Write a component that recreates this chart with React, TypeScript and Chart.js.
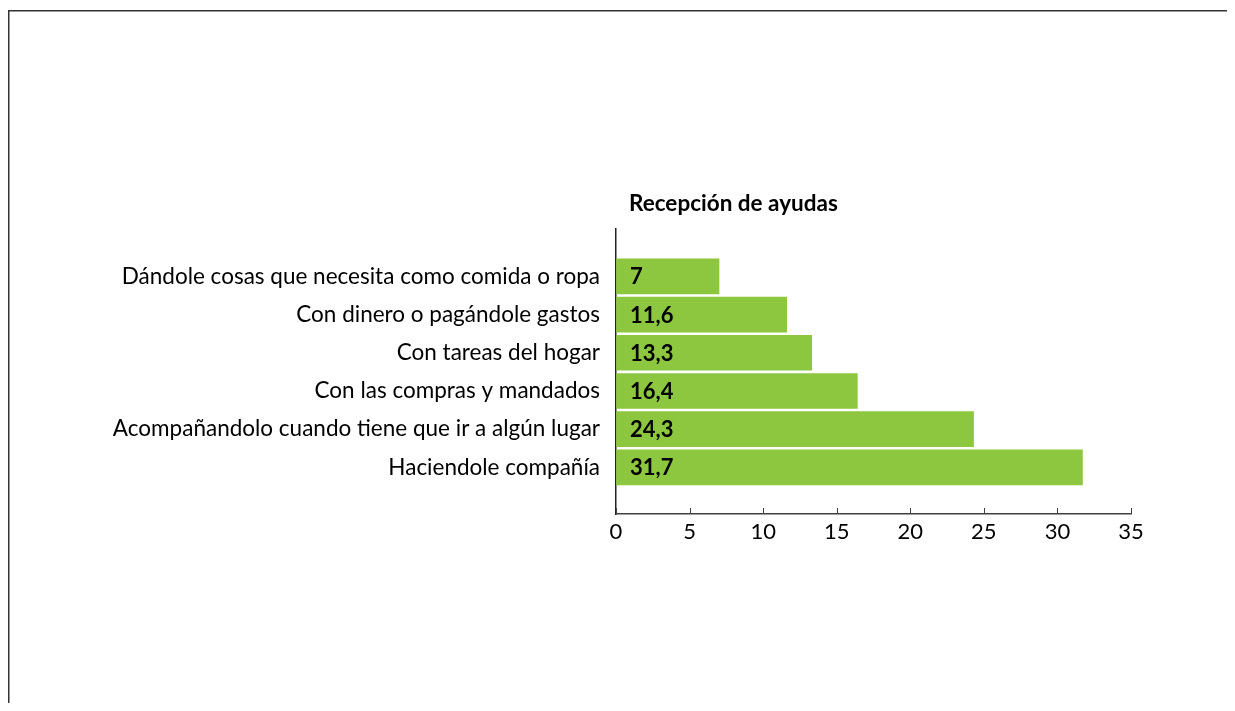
import React, { useEffect, useRef } from "react";
import { Chart, registerables } from "chart.js";

Chart.register(...registerables);

const categories = [
  "Dándole cosas que necesita como comida o ropa",
  "Con dinero o pagándole gastos",
  "Con tareas del hogar",
  "Con las compras y mandados",
  "Acompañandolo cuando tiene que ir a algún lugar",
  "Haciendole compañía",
];
const values = [7, 11.6, 13.3, 16.4, 24.3, 31.7];
const valueLabels = ["7", "11,6", "13,3", "16,4", "24,3", "31,7"];
const xTicks = [0, 5, 10, 15, 20, 25, 30, 35];
const titleText = "Recepción de ayudas";

const FONT = "Lato";
const GREEN = "#8DC63F";

export default function App() {
  const ref = useRef<HTMLCanvasElement | null>(null);
  useEffect(() => {
    if (!ref.current) return;
    document.body.style.overflow = "hidden";
    const frame = {
      id: "frame",
      beforeDraw(chart: any) {
        const { ctx, width, height } = chart;
        ctx.save();
        ctx.strokeStyle = "#333";
        ctx.lineWidth = 1.5;
        ctx.beginPath();
        ctx.moveTo(8.75, height);
        ctx.lineTo(8.75, 10.75);
        ctx.lineTo(width, 10.75);
        ctx.stroke();
        ctx.restore();
      },
    };
    const extras = {
      id: "extras",
      afterDatasetsDraw(chart: any) {
        const { ctx, chartArea, scales } = chart;
        const xs = scales.x;
        const ys = scales.y;
        ctx.save();
        ctx.strokeStyle = "#404040";
        ctx.lineWidth = 1;
        xs.ticks.forEach((t: any) => {
          const px = Math.round(xs.getPixelForValue(t.value)) + 0.5;
          ctx.beginPath();
          ctx.moveTo(px, chartArea.bottom);
          ctx.lineTo(px, chartArea.bottom - 6);
          ctx.stroke();
        });
        ctx.fillStyle = "#000";
        ctx.font = `bold 22px ${FONT}`;
        ctx.textBaseline = "middle";
        ctx.textAlign = "left";
        values.forEach((v, i) => {
          const py = ys.getPixelForValue(i);
          ctx.fillText(valueLabels[i], xs.getPixelForValue(0) + 14, py + 1);
        });
        ctx.font = `bold 22.5px ${FONT}`;
        ctx.fillText(titleText, chartArea.left + 13, 204);
        ctx.restore();
      },
    };
    const chart = new Chart(ref.current, {
      type: "bar",
      data: {
        datasets: [
          {
            data: values.map((v, i) => ({ x: v, y: i })),
            backgroundColor: GREEN,
            borderWidth: 0,
            barThickness: 35,
          },
        ],
      },
      options: {
        indexAxis: "y",
        responsive: false,
        animation: false,
        layout: { padding: { left: 0, right: 104, top: 229, bottom: 0 } },
        plugins: {
          legend: { display: false },
          tooltip: { enabled: false },
          title: { display: false },
        },
        scales: {
          x: {
            type: "linear",
            min: 0,
            max: 35,
            afterBuildTicks: (axis: any) => {
              axis.ticks = xTicks.map((v) => ({ value: v }));
            },
            afterFit: (axis: any) => {
              axis.height = 197;
            },
            ticks: {
              padding: 5,
              color: "#000",
              font: { family: FONT, size: 22 },
            },
            grid: { drawOnChartArea: false, drawTicks: false },
            border: { display: true, color: "#404040", width: 1.5 },
          },
          y: {
            type: "linear",
            reverse: true,
            offset: false,
            bounds: "data",
            min: -1.24,
            max: 6.22,
            afterDataLimits: (s: any) => {
              s.min = -1.24;
              s.max = 6.22;
            },
            afterBuildTicks: (axis: any) => {
              axis.ticks = categories.map((_, i) => ({ value: i }));
            },
            afterFit: (axis: any) => {
              axis.width = 616;
            },
            ticks: {
              padding: 16,
              color: "#000",
              autoSkip: false,
              font: { family: FONT, size: 22.5 },
              callback: (v: any) => categories[v as number] ?? "",
            },
            grid: { drawOnChartArea: false, drawTicks: false, offset: false },
            border: { display: true, color: "#222", width: 1.5 },
          },
        },
      },
      plugins: [frame, extras],
    });
    return () => chart.destroy();
  }, []);
  return (
    <div style={{ position: "relative", margin: -8, width: 1235, height: 711 }}>
      <canvas
        ref={ref}
        width={1235}
        height={711}
        style={{ position: "absolute", left: 0, top: 0, display: "block" }}
      />
    </div>
  );
}
